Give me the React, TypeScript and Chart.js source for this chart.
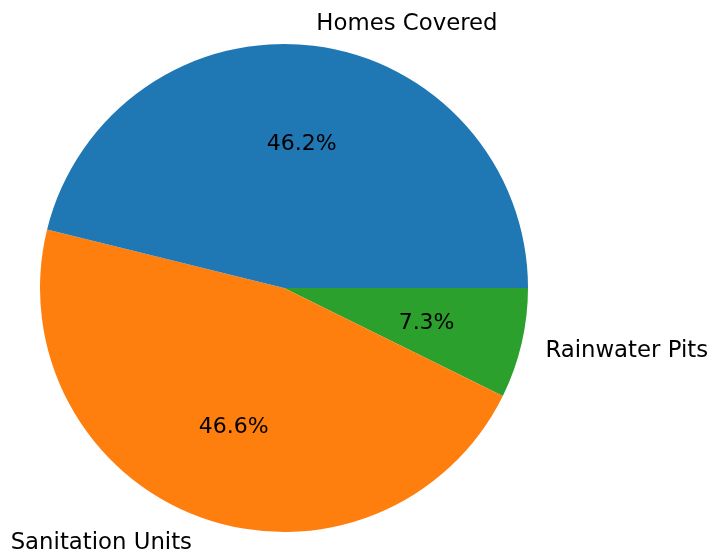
import React, { useEffect, useRef } from "react";
import { Chart, registerables } from "chart.js";

Chart.register(...registerables);

// Order as drawn clockwise from east (reverse of matplotlib CCW order)
const categories = ["Rainwater Pits", "Sanitation Units", "Homes Covered"];
const values = [7.3, 46.6, 46.2];
const colors = ["#2ca02c", "#ff7f0e", "#1f77b4"];

const LABEL_FONT = "22.8px 'DejaVu Sans'";
const PCT_FONT = "22px 'DejaVu Sans'";

const labelPlugin = {
  id: "pieLabels",
  afterDatasetsDraw(chart: any) {
    const ctx = chart.ctx;
    const meta = chart.getDatasetMeta(0);
    const total = values.reduce((a, b) => a + b, 0);
    meta.data.forEach((arc: any, i: number) => {
      const { x, y, startAngle, endAngle, outerRadius } = arc.getProps(
        ["x", "y", "startAngle", "endAngle", "outerRadius"],
        true
      );
      const mid = (startAngle + endAngle) / 2;
      const c = Math.cos(mid);
      const s = Math.sin(mid);
      ctx.save();
      ctx.textBaseline = "middle";
      // percentage
      ctx.font = PCT_FONT;
      ctx.fillStyle = "#000";
      ctx.textAlign = "center";
      const pct = ((values[i] / total) * 100).toFixed(1) + "%";
      ctx.fillText(pct, x + c * outerRadius * 0.6, y + s * outerRadius * 0.6 + 2);
      // label
      ctx.font = LABEL_FONT;
      ctx.fillStyle = "#000";
      const lx = x + c * outerRadius * 1.1;
      const ly = y + s * outerRadius * 1.1 + 2.5;
      ctx.textAlign = c > 0 ? "left" : "right";
      ctx.fillText(categories[i], lx, ly);
      ctx.restore();
    });
  },
};

export default function App() {
  const ref = useRef<HTMLCanvasElement>(null);
  useEffect(() => {
    if (!ref.current) return;
    const chart = new Chart(ref.current, {
      type: "pie",
      data: {
        labels: categories,
        datasets: [
          {
            data: values,
            backgroundColor: colors,
            borderWidth: 0,
          },
        ],
      },
      options: {
        animation: false,
        responsive: false,
        rotation: 90,
        layout: { padding: { left: 40, right: 186, top: 44, bottom: 22 } },
        plugins: {
          legend: { display: false },
          tooltip: { enabled: false },
        },
      },
      plugins: [labelPlugin],
    });
    return () => chart.destroy();
  }, []);
  return (
    <div style={{ position: "absolute", left: 0, top: 0, width: 714, height: 554, background: "#fff" }}>
      <canvas ref={ref} width={714} height={554} />
    </div>
  );
}
